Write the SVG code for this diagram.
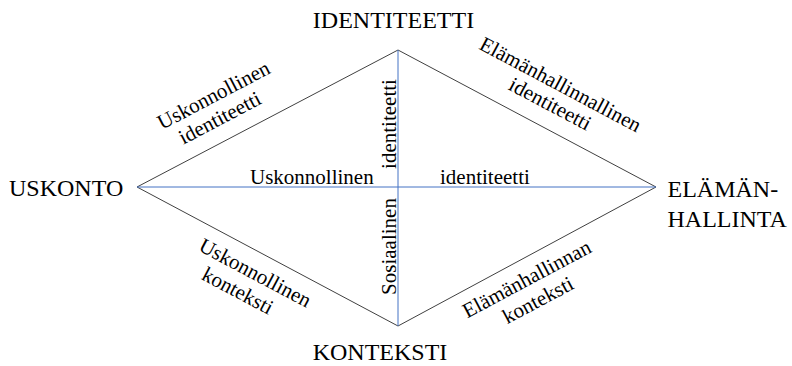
<svg xmlns="http://www.w3.org/2000/svg" width="792" height="366" viewBox="0 0 792 366">
<style>
.big{font-family:"Liberation Serif","Times New Roman",serif;font-size:24px;fill:#000}
.sm{font-family:"Liberation Serif","Times New Roman",serif;font-size:21px;fill:#000}
.edge{stroke:#404040;stroke-width:1;fill:none}
.axis{stroke:#4472C4;stroke-width:1;fill:none}
</style>
<rect width="792" height="366" fill="#fff"/>
<g id="connectors">
<path class="edge" d="M137,187 L398,50 L656,187 L398,326 Z"/>
<line class="axis" x1="137" y1="187" x2="656" y2="187"/>
<line class="axis" x1="398" y1="50" x2="398" y2="326"/>
</g>
<g id="identiteetti-node"><text class="big" x="393.5" y="28" text-anchor="middle">IDENTITEETTI</text></g>
<g id="uskonto-node"><text class="big" x="9" y="196">USKONTO</text></g>
<g id="elamanhallinta-node"><text class="big" x="667.5" y="196.5">ELÄMÄN-</text><text class="big" x="667.5" y="226.5">HALLINTA</text></g>
<g id="konteksti-node"><text class="big" x="312.7" y="360">KONTEKSTI</text></g>
<g id="label-uskonnollinen-identiteetti" transform="translate(223,124) rotate(-27.7)">
<text class="sm" x="5" y="-23" text-anchor="middle">Uskonnollinen</text>
<text class="sm" x="0" y="0" text-anchor="middle">identiteetti</text>
</g>
<g id="label-elamanhallinnallinen-identiteetti" transform="translate(547,110) rotate(28)">
<text class="sm" x="0" y="-22" text-anchor="middle">Elämänhallinnallinen</text>
<text class="sm" x="0" y="0" text-anchor="middle">identiteetti</text>
</g>
<g id="label-uskonnollinen-konteksti" transform="translate(252,279) rotate(28)">
<text class="sm" x="0" y="0" text-anchor="middle">Uskonnollinen</text>
<text class="sm" x="-7" y="24" text-anchor="middle">konteksti</text>
</g>
<g id="label-elamanhallinnan-konteksti" transform="translate(530,285) rotate(-28)">
<text class="sm" x="0" y="0" text-anchor="middle">Elämänhallinnan</text>
<text class="sm" x="0" y="24" text-anchor="middle">konteksti</text>
</g>
<g id="label-horizontal">
<text class="sm" x="250" y="184">Uskonnollinen</text>
<text class="sm" x="440" y="184">identiteetti</text>
</g>
<g id="label-vertical">
<text class="sm" transform="translate(396,124) rotate(-90)" text-anchor="middle">identiteetti</text>
<text class="sm" transform="translate(396,246.5) rotate(-90)" text-anchor="middle">Sosiaalinen</text>
</g>
</svg>
